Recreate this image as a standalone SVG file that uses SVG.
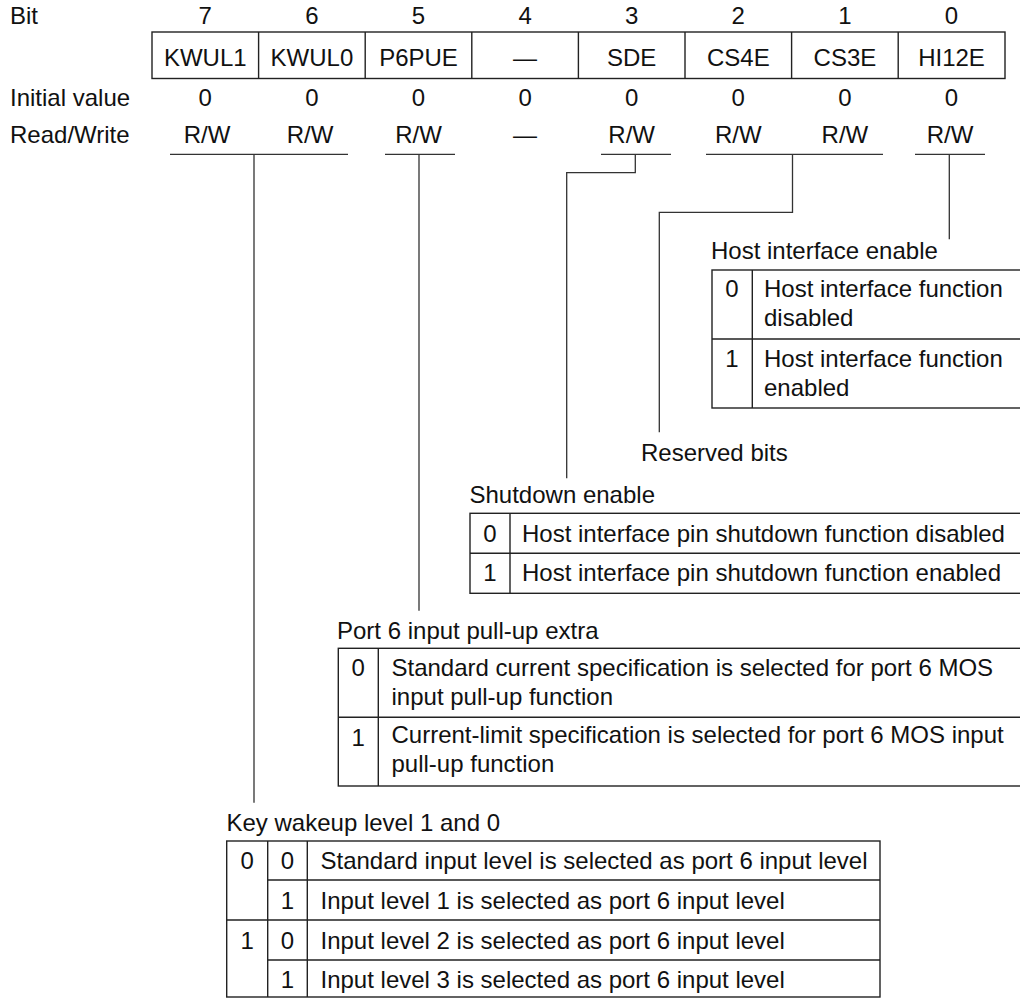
<svg xmlns="http://www.w3.org/2000/svg" width="1020" height="998" viewBox="0 0 1020 998">
<style>
text{font-family:"Liberation Sans",Arial,sans-serif;font-size:24px;fill:#111}
.c{text-anchor:middle}
.b{fill:none;stroke:#222;stroke-width:1.4}
.l{fill:none;stroke:#333;stroke-width:1.3}
</style>
<rect width="1020" height="998" fill="#fff"/>
<g id="register">
<text x="10" y="24">Bit</text>
<text class="c" x="205.3" y="24">7</text>
<text class="c" x="311.9" y="24">6</text>
<text class="c" x="418.5" y="24">5</text>
<text class="c" x="525.1" y="24">4</text>
<text class="c" x="631.7" y="24">3</text>
<text class="c" x="738.3" y="24">2</text>
<text class="c" x="844.9" y="24">1</text>
<text class="c" x="951.5" y="24">0</text>
<rect class="b" x="152" y="32" width="853" height="46.5"/>
<path class="b" d="M258.6 32V78.5M365.2 32V78.5M471.8 32V78.5M578.4 32V78.5M685 32V78.5M791.6 32V78.5M898.2 32V78.5"/>
<text class="c" x="205.3" y="66">KWUL1</text>
<text class="c" x="311.9" y="66">KWUL0</text>
<text class="c" x="418.5" y="66">P6PUE</text>
<text class="c" x="525.1" y="66">—</text>
<text class="c" x="631.7" y="66">SDE</text>
<text class="c" x="738.3" y="66">CS4E</text>
<text class="c" x="844.9" y="66">CS3E</text>
<text class="c" x="951.5" y="66">HI12E</text>
<text x="10" y="106">Initial value</text>
<text class="c" x="205.3" y="106">0</text>
<text class="c" x="311.9" y="106">0</text>
<text class="c" x="418.5" y="106">0</text>
<text class="c" x="525.1" y="106">0</text>
<text class="c" x="631.7" y="106">0</text>
<text class="c" x="738.3" y="106">0</text>
<text class="c" x="844.9" y="106">0</text>
<text class="c" x="951.5" y="106">0</text>
<text x="10" y="143">Read/Write</text>
<text class="c" x="207" y="143">R/W</text>
<text class="c" x="310" y="143">R/W</text>
<text class="c" x="418.5" y="143">R/W</text>
<text class="c" x="525.1" y="143">—</text>
<text class="c" x="631.7" y="143">R/W</text>
<text class="c" x="738.3" y="143">R/W</text>
<text class="c" x="844.9" y="143">R/W</text>
<text class="c" x="950" y="143">R/W</text>
</g>
<g id="connectors">
<path class="l" d="M170 154.3H348M254 154.3V802.7"/>
<path class="l" d="M385 154.3H455M419 154.3V610.7"/>
<path class="l" d="M601 154.3H671M635.3 154.3V172.7H566.7V478.3"/>
<path class="l" d="M706 154.3H883M792.5 154.3V212.3H659.3V432.3"/>
<path class="l" d="M915 154.3H985M949.3 154.3V239.3"/>
</g>
<g id="host-interface-enable">
<text x="711" y="259">Host interface enable</text>
<rect class="b" x="712" y="270" width="320" height="138"/>
<path class="b" d="M752.3 270V408M712 339H1032"/>
<text class="c" x="732" y="297">0</text>
<text x="764" y="297">Host interface function</text>
<text x="764" y="325.7">disabled</text>
<text class="c" x="732" y="366.7">1</text>
<text x="764" y="366.7">Host interface function</text>
<text x="764" y="395.7">enabled</text>
</g>
<g id="reserved-bits">
<text x="641" y="461">Reserved bits</text>
</g>
<g id="shutdown-enable">
<text x="469.5" y="503">Shutdown enable</text>
<rect class="b" x="470" y="513.3" width="562" height="80"/>
<path class="b" d="M510 513.3V593.3M470 553.3H1032"/>
<text class="c" x="490" y="541.7">0</text>
<text x="522" y="541.7">Host interface pin shutdown function disabled</text>
<text class="c" x="490" y="580.7">1</text>
<text x="522" y="580.7">Host interface pin shutdown function enabled</text>
</g>
<g id="port6-pullup">
<text x="337" y="638.5">Port 6 input pull-up extra</text>
<rect class="b" x="338.3" y="648.3" width="694" height="137.7"/>
<path class="b" d="M378.3 648.3V786M338.3 717.3H1032"/>
<text class="c" x="358.3" y="675.7">0</text>
<text x="391.5" y="675.7">Standard current specification is selected for port 6 MOS</text>
<text x="391.5" y="705">input pull-up function</text>
<text class="c" x="358.3" y="746">1</text>
<text x="391.5" y="743.3">Current-limit specification is selected for port 6 MOS input</text>
<text x="391.5" y="771.7">pull-up function</text>
</g>
<g id="key-wakeup-level">
<text x="226.5" y="830.7">Key wakeup level 1 and 0</text>
<rect class="b" x="226.7" y="841" width="653.3" height="156"/>
<path class="b" d="M267.7 841V997M307.3 841V997M267.7 880H880M226.7 920H880M267.7 960H880"/>
<text class="c" x="247.2" y="869">0</text>
<text class="c" x="287.5" y="869">0</text>
<text x="320.5" y="869">Standard input level is selected as port 6 input level</text>
<text class="c" x="287.5" y="908.7">1</text>
<text x="320.5" y="908.7">Input level 1 is selected as port 6 input level</text>
<text class="c" x="247.2" y="949">1</text>
<text class="c" x="287.5" y="949">0</text>
<text x="320.5" y="949">Input level 2 is selected as port 6 input level</text>
<text class="c" x="287.5" y="988.3">1</text>
<text x="320.5" y="988.3">Input level 3 is selected as port 6 input level</text>
</g>
</svg>
